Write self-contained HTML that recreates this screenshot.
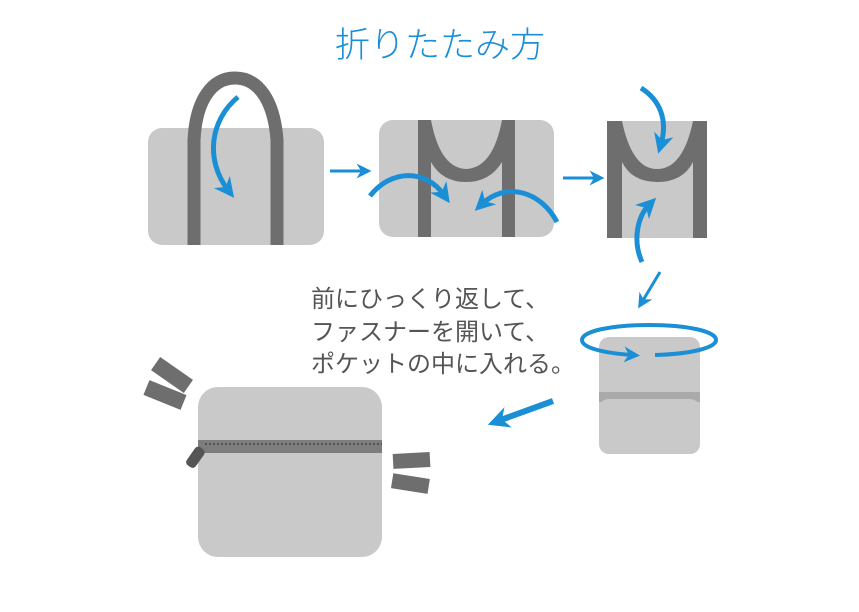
<!DOCTYPE html>
<html><head><meta charset="utf-8"><style>
html,body{margin:0;padding:0;background:#fff;}
svg{display:block;}
text{font-family:"Liberation Sans","Noto Sans CJK JP",sans-serif;}
</style></head><body>
<svg width="859" height="612" viewBox="0 0 859 612" xmlns="http://www.w3.org/2000/svg">
<defs>
<marker id="ah" viewBox="0 0 10 10" refX="5" refY="5" markerWidth="4" markerHeight="4" orient="auto"><path d="M0,0 L10,5 L0,10 L3,5 Z" fill="#1a8fd6"/></marker>
<marker id="ahb" viewBox="0 0 10 10" refX="5" refY="5" markerWidth="3.6" markerHeight="3.6" orient="auto"><path d="M0,0 L10,5 L0,10 L3,5 Z" fill="#1a8fd6"/></marker>
<marker id="ah2" viewBox="0 0 10 10" refX="5" refY="5" markerWidth="5" markerHeight="5" orient="auto"><path d="M0,0 L10,5 L0,10 L3,5 Z" fill="#1a8fd6"/></marker>
</defs>
<text x="440" y="57" text-anchor="middle" font-size="35" fill="#1a8fd6" font-weight="300">折りたたみ方</text>

<!-- bag1 -->
<rect x="148" y="128" width="176" height="117" rx="14" fill="#c8c9c8"/>
<path d="M194,245 L194,140 C196,100 212,78 235,78 C258,78 274,100 277,140 L277,245" fill="none" stroke="#6e6e6e" stroke-width="13"/>
<path d="M238,97 C210,120 205,160 228,190" fill="none" stroke="#1a8fd6" stroke-width="5" marker-end="url(#ah)"/>

<line x1="330" y1="171" x2="364" y2="171" stroke="#1a8fd6" stroke-width="3" marker-end="url(#ah2)"/>

<!-- bag2 -->
<rect x="379" y="120" width="175" height="117" rx="14" fill="#c8c9c8"/>
<path d="M418,120 L431,120 Q440,168 466,169 Q493,168 502,120 L515,120 L515,237 L502,237 L502,162 Q490,182 466,182 Q442,182 431,162 L431,237 L418,237 Z" fill="#6e6e6e"/>
<path d="M370,196 C390,170 425,168 444,195" fill="none" stroke="#1a8fd6" stroke-width="5" marker-end="url(#ah)"/>
<path d="M557,222 C540,190 505,182 482,204" fill="none" stroke="#1a8fd6" stroke-width="5" marker-end="url(#ah)"/>

<line x1="563" y1="178" x2="597" y2="178" stroke="#1a8fd6" stroke-width="3" marker-end="url(#ah2)"/>

<!-- bag3 -->
<rect x="607" y="121" width="100" height="117" rx="4" fill="#c8c9c8"/>
<path d="M607,121 L622,121 Q632,169 657,169 Q683,169 693,121 L707,121 L707,238 L693,238 L693,162 Q683,182 657,182 Q632,182 622,162 L622,238 L607,238 Z" fill="#6e6e6e"/>
<path d="M641,88 C660,100 668,120 661,144" fill="none" stroke="#1a8fd6" stroke-width="5" marker-end="url(#ah)"/>
<path d="M642,262 C632,240 638,216 649,205" fill="none" stroke="#1a8fd6" stroke-width="5" marker-end="url(#ah)"/>
<line x1="660" y1="272" x2="642" y2="302" stroke="#1a8fd6" stroke-width="3" marker-end="url(#ah2)"/>

<!-- text -->
<text font-size="24" fill="#555">
<tspan x="311" y="307">前にひっくり返して、</tspan>
<tspan x="311" y="340">ファスナーを開いて、</tspan>
<tspan x="311" y="372">ポケットの中に入れる。</tspan>
</text>

<!-- bag4 -->
<rect x="599" y="337" width="101" height="117" rx="10" fill="#c8c9c8"/>
<rect x="599" y="392" width="101" height="10" fill="#a9aaa9"/>
<rect x="599" y="399" width="101" height="55" rx="10" fill="#c8c9c8"/>
<path d="M655,355 C690,354 716,348 716,340 C716,331 686,325 649,325 C612,325 582,331 582,340 C582,348 604,353 632,355" fill="none" stroke="#1a8fd6" stroke-width="4" marker-end="url(#ah)"/>

<line x1="553" y1="401" x2="498" y2="421" stroke="#1a8fd6" stroke-width="6" marker-end="url(#ahb)"/>

<!-- bag5 -->
<rect x="198" y="387" width="184" height="170" rx="20" fill="#c8c9c8"/>
<rect x="198" y="440" width="184" height="13" fill="#7d7d7d"/>
<line x1="205" y1="444" x2="382" y2="444" stroke="#555" stroke-width="2" stroke-dasharray="2,2"/>
<rect x="190" y="446" width="11" height="22" rx="4" fill="#555" transform="rotate(35 195 457)"/>
<rect x="152" y="367" width="40" height="16" fill="#6e6e6e" transform="rotate(35 172 375)"/>
<rect x="145" y="387" width="40" height="16" fill="#6e6e6e" transform="rotate(22 165 395)"/>
<rect x="393" y="453" width="37" height="15" fill="#6e6e6e" transform="rotate(-3 411 460)"/>
<rect x="392" y="476" width="37" height="15" fill="#6e6e6e" transform="rotate(9 410 483)"/>
</svg>
</body></html>
